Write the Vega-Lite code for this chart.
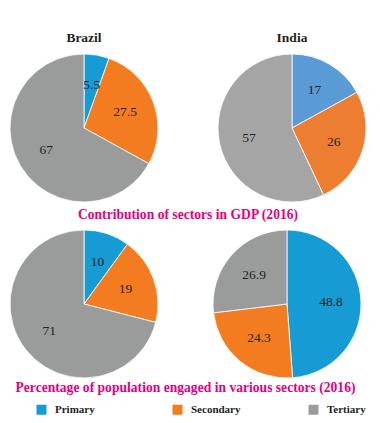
{
  "$schema": "https://vega.github.io/schema/vega-lite/v6.json",
  "background": "white",
  "padding": {"left": 8, "top": 30, "right": 0, "bottom": 0},
  "config": {
    "view": {"stroke": null},
    "font": "Liberation Serif",
    "title": {"font": "Liberation Serif", "fontSize": 13.5, "fontWeight": "bold", "color": "#231f20", "anchor": "middle", "offset": 8}
  },
  "datasets": {
    "gdp": [
      {"country": "Brazil", "sector": "Primary", "value": 5.5},
      {"country": "Brazil", "sector": "Secondary", "value": 27.5},
      {"country": "Brazil", "sector": "Tertiary", "value": 67},
      {"country": "India", "sector": "Primary", "value": 17},
      {"country": "India", "sector": "Secondary", "value": 26},
      {"country": "India", "sector": "Tertiary", "value": 57}
    ],
    "emp": [
      {"country": "Brazil", "sector": "Primary", "value": 10},
      {"country": "Brazil", "sector": "Secondary", "value": 19},
      {"country": "Brazil", "sector": "Tertiary", "value": 71},
      {"country": "India", "sector": "Primary", "value": 48.8},
      {"country": "India", "sector": "Secondary", "value": 24.3},
      {"country": "India", "sector": "Tertiary", "value": 26.9}
    ]
  },
  "spacing": 6,
  "vconcat": [
    {
      "title": {"text": "Contribution of sectors in GDP (2016)", "orient": "bottom", "color": "#e6007e", "fontSize": 13.6, "offset": 4},
      "spacing": 56,
      "resolve": {"scale": {"color": "independent"}, "legend": {"color": "independent"}},
      "hconcat": [
        {
          "title": "Brazil",
          "width": 148, "height": 148,
          "data": {"name": "gdp"},
          "transform": [{"filter": "datum.country === 'Brazil'"}],
          "encoding": {"theta": {"field": "value", "type": "quantitative", "stack": true}},
          "layer": [
            {"mark": {"type": "arc", "outerRadius": 74, "stroke": "white", "strokeWidth": 0.8},
             "encoding": {"color": {"field": "sector", "type": "nominal", "legend": null,
               "scale": {"domain": ["Primary", "Secondary", "Tertiary"], "range": ["#169bd5", "#f47c20", "#9a9c9c"]}}}},
            {"mark": {"type": "text", "radius": 44, "font": "Liberation Serif", "fontSize": 13.5},
             "encoding": {"text": {"field": "value", "type": "nominal"}, "detail": {"field": "sector"}, "color": {"value": "#231f20"}, "order": {"field": "sector", "sort": "ascending"}}}
          ]
        },
        {
          "title": "India",
          "width": 148, "height": 148,
          "data": {"name": "gdp"},
          "transform": [{"filter": "datum.country === 'India'"}],
          "encoding": {"theta": {"field": "value", "type": "quantitative", "stack": true}},
          "layer": [
            {"mark": {"type": "arc", "outerRadius": 74, "stroke": "white", "strokeWidth": 0.8},
             "encoding": {"color": {"field": "sector", "type": "nominal", "legend": null,
               "scale": {"domain": ["Primary", "Secondary", "Tertiary"], "range": ["#5b9bd5", "#ed7d31", "#a5a5a5"]}}}},
            {"mark": {"type": "text", "radius": 44, "font": "Liberation Serif", "fontSize": 13.5},
             "encoding": {"text": {"field": "value", "type": "nominal"}, "detail": {"field": "sector"}, "color": {"value": "#231f20"}, "order": {"field": "sector", "sort": "ascending"}}}
          ]
        }
      ]
    },
    {
      "title": {"text": "Percentage of population engaged in various sectors (2016)", "orient": "bottom", "color": "#e6007e", "fontSize": 13.6, "offset": 1},
      "spacing": 51,
      "hconcat": [
        {
          "width": 148, "height": 148,
          "data": {"name": "emp"},
          "transform": [{"filter": "datum.country === 'Brazil'"}],
          "encoding": {"theta": {"field": "value", "type": "quantitative", "stack": true}},
          "layer": [
            {"mark": {"type": "arc", "outerRadius": 74, "stroke": "white", "strokeWidth": 0.8},
             "encoding": {"color": {"field": "sector", "type": "nominal",
               "scale": {"domain": ["Primary", "Secondary", "Tertiary"], "range": ["#169bd5", "#f47c20", "#9a9c9c"]},
               "legend": {"orient": "none", "legendX": 26, "legendY": 350, "direction": "horizontal", "columns": 3, "title": null,
                 "symbolType": "square", "symbolSize": 100, "symbolStrokeWidth": 0, "labelOffset": 8, "columnPadding": 67, "gridAlign": "all",
                 "labelFont": "Liberation Serif", "labelFontWeight": "bold", "labelFontSize": 11, "labelColor": "#231f20"}}}},
            {"mark": {"type": "text", "radius": 44, "font": "Liberation Serif", "fontSize": 13.5},
             "encoding": {"text": {"field": "value", "type": "nominal"}, "detail": {"field": "sector"}, "color": {"value": "#231f20"}, "order": {"field": "sector", "sort": "ascending"}}}
          ]
        },
        {
          "width": 148, "height": 148,
          "data": {"name": "emp"},
          "transform": [{"filter": "datum.country === 'India'"}],
          "encoding": {"theta": {"field": "value", "type": "quantitative", "stack": true}},
          "layer": [
            {"mark": {"type": "arc", "outerRadius": 74, "stroke": "white", "strokeWidth": 0.8},
             "encoding": {"color": {"field": "sector", "type": "nominal"}}},
            {"mark": {"type": "text", "radius": 44, "font": "Liberation Serif", "fontSize": 13.5},
             "encoding": {"text": {"field": "value", "type": "nominal"}, "detail": {"field": "sector"}, "color": {"value": "#231f20"}, "order": {"field": "sector", "sort": "ascending"}}}
          ]
        }
      ]
    }
  ]
}
